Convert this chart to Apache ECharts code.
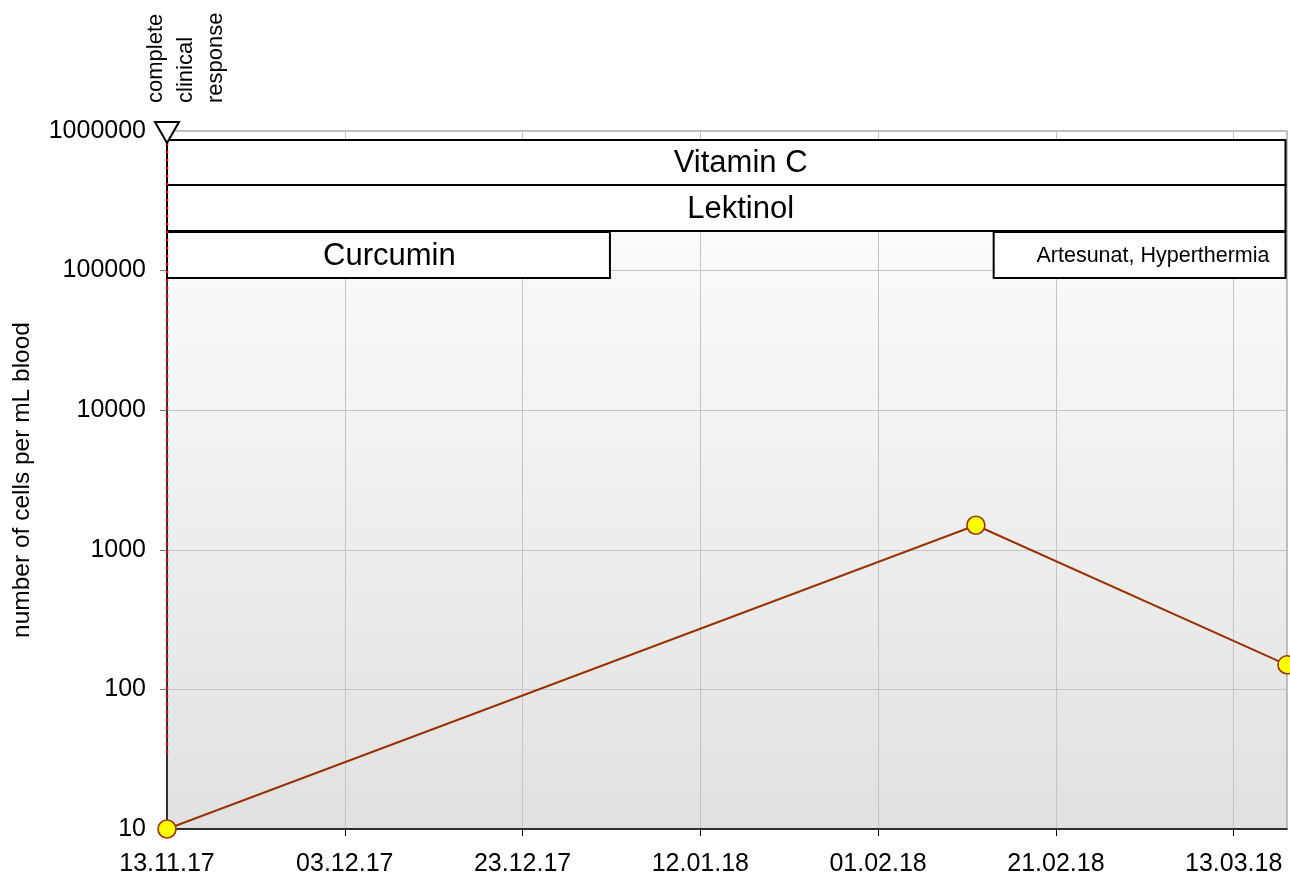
<!DOCTYPE html>
<html>
<head>
<meta charset="utf-8">
<script src="https://cdn.jsdelivr.net/npm/echarts@6/dist/echarts.min.js"></script>
<style>
html,body{margin:0;padding:0;background:#fff;}
#chart{width:1290px;height:883px;}
</style>
</head>
<body>
<div id="chart"></div>
<script>
// ---- data ----
const startDate = '2017-11-13';
const endDate = '2018-03-19';
const tickStepDays = 20;
const yMin = 10;
const yMax = 1000000;
const yAxisTitle = 'number of cells per mL blood';

const measureDates = ['2017-11-13', '2018-02-12', '2018-03-19'];
const cellCounts = [10, 1500, 150];

const therapyNames = ['Vitamin C', 'Lektinol', 'Curcumin', 'Artesunat, Hyperthermia'];
const therapyStart = ['2017-11-13', '2017-11-13', '2017-11-13', '2018-02-14'];
const therapyEnd = ['2018-03-19', '2018-03-19', '2018-01-02', '2018-03-19'];
const therapyLow = [410000, 192000, 88500, 88500];
const therapyHigh = [862000, 410000, 189000, 189000];

const eventDates = ['2017-11-13'];
const eventLabels = ['complete\nclinical\nresponse'];
const eventLineFrom = [35];
const eventLineTo = [1000000];

// ---- helpers ----
function utc(s) { const p = s.split('-').map(Number); return Date.UTC(p[0], p[1] - 1, p[2]); }
const DAY = 86400000;
const t0 = utc(startDate);
function dayOf(s) { return (utc(s) - t0) / DAY; }
function pad(n) { return (n < 10 ? '0' : '') + n; }
function fmtDay(v) {
  const d = new Date(t0 + Math.round(v) * DAY);
  return pad(d.getUTCDate()) + '.' + pad(d.getUTCMonth() + 1) + '.' + pad(d.getUTCFullYear() % 100);
}

const FONT = '"Liberation Sans", Arial, Helvetica, sans-serif';

const lineData = measureDates.map((d, i) => [dayOf(d), cellCounts[i]]);
const therapyData = therapyNames.map((n, i) => [dayOf(therapyStart[i]), dayOf(therapyEnd[i]), therapyLow[i], therapyHigh[i], i]);
const eventData = eventDates.map((d, i) => [dayOf(d), eventLineFrom[i], eventLineTo[i], i]);

const chart = echarts.init(document.getElementById('chart'), null, { renderer: 'canvas' });

chart.setOption({
  animation: false,
  backgroundColor: '#ffffff',
  textStyle: { fontFamily: FONT, color: '#000' },
  grid: {
    left: 167, right: 3, top: 131, bottom: 54,
    show: true,
    borderColor: '#a6a6a6',
    borderWidth: 1.5,
    backgroundColor: new echarts.graphic.LinearGradient(0, 0, 0, 1, [
      { offset: 0, color: '#ffffff' },
      { offset: 1, color: '#e1e1e1' }
    ])
  },
  xAxis: {
    type: 'value',
    min: 0,
    max: dayOf(endDate),
    interval: tickStepDays,
    axisLine: { show: true, onZero: false, lineStyle: { color: '#000', width: 1.5 } },
    axisTick: { show: true, length: 7, lineStyle: { color: '#000' } },
    axisLabel: {
      margin: 23, fontSize: 25, color: '#000', fontFamily: FONT,
      showMaxLabel: false,
      formatter: v => fmtDay(v)
    },
    splitLine: { show: true, lineStyle: { color: '#c4c4c4', width: 1 } }
  },
  yAxis: {
    type: 'log',
    logBase: 10,
    min: yMin,
    max: yMax,
    name: yAxisTitle,
    nameLocation: 'middle',
    nameGap: 132,
    nameTextStyle: { fontSize: 24.5, color: '#000', fontFamily: FONT },
    axisLine: { show: true, lineStyle: { color: '#000', width: 1.5 } },
    axisTick: { show: true, length: 7, lineStyle: { color: '#777' } },
    axisLabel: {
      margin: 21, fontSize: 25, color: '#000', fontFamily: FONT,
      formatter: v => String(Math.round(v))
    },
    splitLine: { show: true, lineStyle: { color: '#c4c4c4', width: 1 } },
    minorTick: { show: false },
    minorSplitLine: { show: false }
  },
  series: [
    {
      type: 'custom',
      name: 'therapies',
      clip: false,
      z: 3,
      encode: { x: [0, 1], y: [2, 3] },
      data: therapyData,
      renderItem: function (params, api) {
        const a = api.coord([api.value(0), api.value(3)]);
        const b = api.coord([api.value(1), api.value(2)]);
        const idx = api.value(4);
        const w = b[0] - a[0] - 1.5, h = b[1] - a[1];
        const small = w < 350;
        const shift = Math.max(0, (w - 400) * 0.02);
        return {
          type: 'group',
          children: [
            {
              type: 'rect',
              shape: { x: a[0], y: a[1], width: w, height: h },
              style: { fill: '#ffffff', stroke: '#000', lineWidth: 2 }
            },
            {
              type: 'text',
              style: {
                text: therapyNames[idx],
                x: small ? a[0] + w - 16 : a[0] + w / 2 + shift,
                y: a[1] + h / 2 + 1,
                align: small ? 'right' : 'center',
                verticalAlign: 'middle',
                font: (small ? '21.5px ' : '31px ') + FONT,
                fill: '#000'
              }
            }
          ]
        };
      }
    },
    {
      type: 'line',
      name: 'cells',
      data: lineData,
      clip: false,
      z: 5,
      symbol: 'circle',
      symbolSize: 18,
      lineStyle: { color: '#993300', width: 2 },
      itemStyle: { color: '#ffff00', borderColor: '#993300', borderWidth: 1.6 }
    },
    {
      type: 'custom',
      name: 'events',
      clip: false,
      z: 6,
      encode: { x: 0, y: [1, 2] },
      data: eventData,
      renderItem: function (params, api) {
        const top = api.coord([api.value(0), api.value(2)]);
        const bot = api.coord([api.value(0), api.value(1)]);
        const idx = api.value(3);
        const x = top[0], y = top[1];
        return {
          type: 'group',
          children: [
            {
              type: 'line',
              shape: { x1: x, y1: y + 12, x2: bot[0], y2: bot[1] },
              style: { stroke: '#ff0000', lineWidth: 2.5, lineDash: [2.5, 5.5] }
            },
            {
              type: 'polygon',
              shape: { points: [[x - 12, y - 9], [x + 12, y - 9], [x, y + 12]] },
              style: { fill: '#ffffff', stroke: '#000', lineWidth: 2 }
            },
            {
              type: 'text',
              x: x - 26,
              y: y - 28,
              rotation: Math.PI / 2,
              style: {
                text: eventLabels[idx],
                x: 0, y: 0,
                align: 'left',
                verticalAlign: 'top',
                lineHeight: 30,
                font: '22px ' + FONT,
                fill: '#000'
              }
            }
          ]
        };
      }
    }
  ]
});
</script>
</body>
</html>
